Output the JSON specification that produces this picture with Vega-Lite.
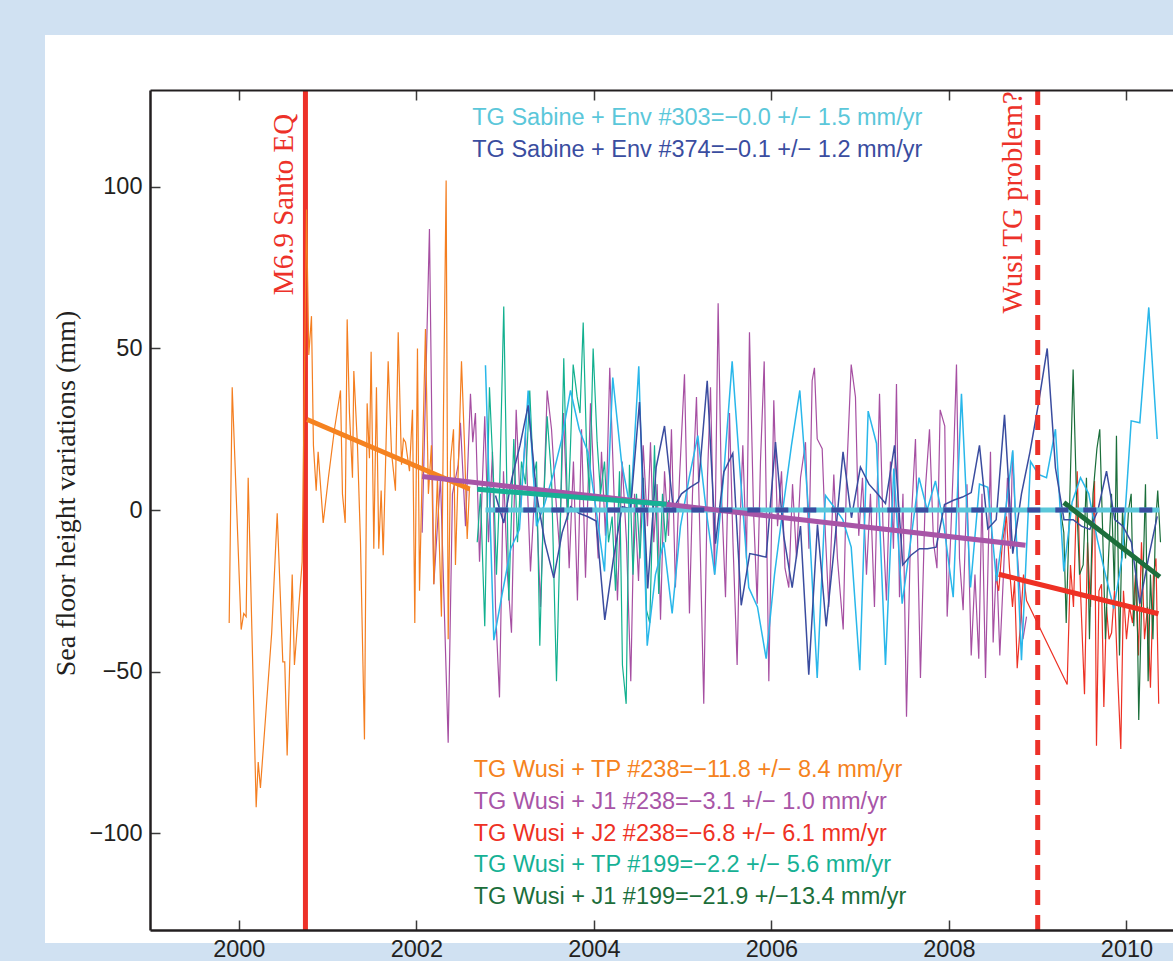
{
 "$schema": "https://vega.github.io/schema/vega-lite/v6.json",
 "width": 1023,
 "height": 840,
 "autosize": {"type": "none"},
 "padding": {"left": 150, "top": 90, "right": 0, "bottom": 31},
 "background": "#d0e1f2",
 "config": {"view": {"stroke": null}, "font": "Liberation Sans"},
 "datasets": {
  "orange": [{"t":1999.892,"v":-35},{"t":1999.926,"v":38},{"t":2000.027,"v":-37},{"t":2000.056,"v":-32},{"t":2000.083,"v":-33},{"t":2000.106,"v":10},{"t":2000.196,"v":-92},{"t":2000.219,"v":-78},{"t":2000.244,"v":-86},{"t":2000.371,"v":-38},{"t":2000.433,"v":-1},{"t":2000.496,"v":-47},{"t":2000.518,"v":-47},{"t":2000.545,"v":-76},{"t":2000.602,"v":-20},{"t":2000.627,"v":-48},{"t":2000.714,"v":-16},{"t":2000.763,"v":93},{"t":2000.789,"v":48},{"t":2000.819,"v":60},{"t":2000.841,"v":20},{"t":2000.872,"v":6},{"t":2000.894,"v":18},{"t":2000.951,"v":-4},{"t":2001.010,"v":10},{"t":2001.078,"v":25},{"t":2001.146,"v":37},{"t":2001.168,"v":5},{"t":2001.199,"v":-4},{"t":2001.221,"v":59},{"t":2001.247,"v":30},{"t":2001.281,"v":10},{"t":2001.296,"v":43},{"t":2001.337,"v":20},{"t":2001.371,"v":-10},{"t":2001.416,"v":-71},{"t":2001.446,"v":33},{"t":2001.472,"v":16},{"t":2001.491,"v":49},{"t":2001.521,"v":-12},{"t":2001.551,"v":38},{"t":2001.577,"v":-12},{"t":2001.604,"v":6},{"t":2001.627,"v":-14},{"t":2001.683,"v":46},{"t":2001.720,"v":18},{"t":2001.765,"v":6},{"t":2001.796,"v":55},{"t":2001.833,"v":14},{"t":2001.855,"v":22},{"t":2001.878,"v":21},{"t":2001.923,"v":12},{"t":2001.957,"v":31},{"t":2001.983,"v":-35},{"t":2002.013,"v":50},{"t":2002.036,"v":-25},{"t":2002.069,"v":15},{"t":2002.103,"v":56},{"t":2002.136,"v":5},{"t":2002.170,"v":20},{"t":2002.197,"v":-23},{"t":2002.238,"v":10},{"t":2002.283,"v":-33},{"t":2002.306,"v":30},{"t":2002.336,"v":102},{"t":2002.359,"v":-40},{"t":2002.385,"v":15},{"t":2002.419,"v":25},{"t":2002.441,"v":-17},{"t":2002.475,"v":15},{"t":2002.509,"v":46},{"t":2002.543,"v":20},{"t":2002.573,"v":-9},{"t":2002.599,"v":7}],
  "purple": [{"t":2002.066,"v":-7},{"t":2002.148,"v":87},{"t":2002.197,"v":-23},{"t":2002.272,"v":10},{"t":2002.359,"v":-72},{"t":2002.407,"v":5},{"t":2002.472,"v":14},{"t":2002.497,"v":27},{"t":2002.554,"v":-5},{"t":2002.610,"v":36},{"t":2002.636,"v":21},{"t":2002.666,"v":30},{"t":2002.712,"v":-16},{"t":2002.771,"v":29},{"t":2002.813,"v":-10},{"t":2002.858,"v":18},{"t":2002.892,"v":-30},{"t":2002.937,"v":-58},{"t":2002.982,"v":12},{"t":2003.027,"v":-20},{"t":2003.072,"v":-38},{"t":2003.125,"v":31},{"t":2003.173,"v":0},{"t":2003.230,"v":24},{"t":2003.286,"v":-19},{"t":2003.342,"v":10},{"t":2003.399,"v":-30},{"t":2003.474,"v":37},{"t":2003.523,"v":25},{"t":2003.568,"v":5},{"t":2003.613,"v":-12},{"t":2003.658,"v":30},{"t":2003.722,"v":-18},{"t":2003.770,"v":15},{"t":2003.815,"v":-28},{"t":2003.861,"v":25},{"t":2003.906,"v":-21},{"t":2003.962,"v":33},{"t":2004.007,"v":5},{"t":2004.049,"v":-15},{"t":2004.086,"v":18},{"t":2004.131,"v":-8},{"t":2004.179,"v":44},{"t":2004.221,"v":10},{"t":2004.266,"v":-28},{"t":2004.319,"v":15},{"t":2004.368,"v":-10},{"t":2004.416,"v":-53},{"t":2004.458,"v":5},{"t":2004.503,"v":-22},{"t":2004.556,"v":20},{"t":2004.604,"v":-5},{"t":2004.638,"v":21},{"t":2004.675,"v":-10},{"t":2004.713,"v":8},{"t":2004.751,"v":-34},{"t":2004.796,"v":12},{"t":2004.841,"v":-8},{"t":2004.874,"v":25},{"t":2004.919,"v":-24},{"t":2004.965,"v":10},{"t":2005.021,"v":42},{"t":2005.077,"v":-32},{"t":2005.111,"v":5},{"t":2005.156,"v":35},{"t":2005.201,"v":-15},{"t":2005.238,"v":-60},{"t":2005.280,"v":10},{"t":2005.314,"v":38},{"t":2005.359,"v":-20},{"t":2005.400,"v":64},{"t":2005.438,"v":5},{"t":2005.483,"v":-27},{"t":2005.528,"v":30},{"t":2005.567,"v":-10},{"t":2005.614,"v":-48},{"t":2005.646,"v":-5},{"t":2005.678,"v":20},{"t":2005.719,"v":-15},{"t":2005.753,"v":55},{"t":2005.798,"v":0},{"t":2005.840,"v":-29},{"t":2005.877,"v":15},{"t":2005.919,"v":46},{"t":2005.971,"v":-53},{"t":2006.027,"v":34},{"t":2006.069,"v":-5},{"t":2006.114,"v":12},{"t":2006.153,"v":-18},{"t":2006.196,"v":-24},{"t":2006.238,"v":8},{"t":2006.283,"v":-15},{"t":2006.328,"v":10},{"t":2006.384,"v":21},{"t":2006.423,"v":-12},{"t":2006.459,"v":40},{"t":2006.485,"v":44},{"t":2006.516,"v":22},{"t":2006.572,"v":19},{"t":2006.609,"v":-8},{"t":2006.646,"v":-30},{"t":2006.703,"v":11},{"t":2006.744,"v":-15},{"t":2006.809,"v":-37},{"t":2006.846,"v":10},{"t":2006.899,"v":45},{"t":2006.947,"v":35},{"t":2006.984,"v":-8},{"t":2007.026,"v":10},{"t":2007.071,"v":-20},{"t":2007.116,"v":5},{"t":2007.161,"v":-30},{"t":2007.218,"v":36},{"t":2007.257,"v":-5},{"t":2007.296,"v":-28},{"t":2007.341,"v":15},{"t":2007.375,"v":-12},{"t":2007.409,"v":39},{"t":2007.443,"v":-27},{"t":2007.482,"v":5},{"t":2007.522,"v":-64},{"t":2007.567,"v":-8},{"t":2007.623,"v":22},{"t":2007.679,"v":-52},{"t":2007.736,"v":7},{"t":2007.781,"v":25},{"t":2007.826,"v":-10},{"t":2007.865,"v":-18},{"t":2007.901,"v":31},{"t":2007.953,"v":26},{"t":2007.980,"v":-33},{"t":2008.017,"v":-10},{"t":2008.051,"v":15},{"t":2008.085,"v":45},{"t":2008.119,"v":-15},{"t":2008.160,"v":-31},{"t":2008.203,"v":8},{"t":2008.251,"v":-45},{"t":2008.293,"v":-20},{"t":2008.336,"v":-46},{"t":2008.372,"v":5},{"t":2008.412,"v":-52},{"t":2008.468,"v":18},{"t":2008.498,"v":-41},{"t":2008.536,"v":-15},{"t":2008.573,"v":-45},{"t":2008.614,"v":-20},{"t":2008.659,"v":10},{"t":2008.693,"v":-12},{"t":2008.716,"v":18},{"t":2008.761,"v":-10},{"t":2008.800,"v":-25},{"t":2008.834,"v":-40},{"t":2008.874,"v":-33}],
  "red": [{"t":2008.524,"v":-20},{"t":2008.561,"v":-25},{"t":2008.603,"v":-10},{"t":2008.648,"v":-2},{"t":2008.682,"v":-18},{"t":2008.716,"v":-30},{"t":2008.739,"v":-22},{"t":2008.769,"v":-49},{"t":2008.806,"v":-35},{"t":2008.840,"v":-20},{"t":2008.874,"v":-28},{"t":2009.332,"v":-54},{"t":2009.369,"v":-17},{"t":2009.403,"v":-30},{"t":2009.445,"v":12},{"t":2009.482,"v":-25},{"t":2009.527,"v":-57},{"t":2009.561,"v":-10},{"t":2009.595,"v":-30},{"t":2009.640,"v":9},{"t":2009.662,"v":-73},{"t":2009.690,"v":-25},{"t":2009.719,"v":-23},{"t":2009.745,"v":-61},{"t":2009.775,"v":-30},{"t":2009.803,"v":-40},{"t":2009.832,"v":-38},{"t":2009.865,"v":-25},{"t":2009.899,"v":-50},{"t":2009.936,"v":-74},{"t":2009.966,"v":-25},{"t":2010.000,"v":-40},{"t":2010.034,"v":-30},{"t":2010.068,"v":-35},{"t":2010.101,"v":-20},{"t":2010.135,"v":-45},{"t":2010.169,"v":-10},{"t":2010.203,"v":-40},{"t":2010.237,"v":-30},{"t":2010.270,"v":-55},{"t":2010.304,"v":-20},{"t":2010.332,"v":-15},{"t":2010.363,"v":-60}],
  "teal": [{"t":2002.686,"v":-10},{"t":2002.723,"v":5},{"t":2002.771,"v":-36},{"t":2002.824,"v":38},{"t":2002.869,"v":10},{"t":2002.903,"v":-20},{"t":2002.937,"v":5},{"t":2002.985,"v":63},{"t":2003.042,"v":-28},{"t":2003.098,"v":22},{"t":2003.140,"v":-10},{"t":2003.185,"v":15},{"t":2003.230,"v":8},{"t":2003.278,"v":37},{"t":2003.320,"v":10},{"t":2003.354,"v":15},{"t":2003.391,"v":-42},{"t":2003.432,"v":0},{"t":2003.474,"v":29},{"t":2003.523,"v":10},{"t":2003.579,"v":-53},{"t":2003.618,"v":-10},{"t":2003.661,"v":47},{"t":2003.706,"v":-3},{"t":2003.737,"v":20},{"t":2003.767,"v":45},{"t":2003.812,"v":35},{"t":2003.844,"v":30},{"t":2003.880,"v":58},{"t":2003.917,"v":20},{"t":2003.951,"v":5},{"t":2003.992,"v":50},{"t":2004.037,"v":21},{"t":2004.075,"v":5},{"t":2004.120,"v":15},{"t":2004.165,"v":-10},{"t":2004.206,"v":-2},{"t":2004.244,"v":-25},{"t":2004.289,"v":12},{"t":2004.322,"v":-48},{"t":2004.364,"v":-60},{"t":2004.401,"v":14},{"t":2004.441,"v":-20},{"t":2004.480,"v":5},{"t":2004.520,"v":-15},{"t":2004.559,"v":10},{"t":2004.593,"v":-31},{"t":2004.630,"v":-35},{"t":2004.683,"v":20},{"t":2004.731,"v":-26},{"t":2004.773,"v":5},{"t":2004.807,"v":-10},{"t":2004.841,"v":3}],
  "green": [{"t":2009.257,"v":0},{"t":2009.294,"v":-7},{"t":2009.321,"v":-35},{"t":2009.358,"v":0},{"t":2009.399,"v":43.5},{"t":2009.436,"v":5},{"t":2009.471,"v":-20},{"t":2009.512,"v":-17},{"t":2009.549,"v":10},{"t":2009.583,"v":-40},{"t":2009.623,"v":5},{"t":2009.667,"v":19},{"t":2009.699,"v":25},{"t":2009.730,"v":-5},{"t":2009.763,"v":-40},{"t":2009.797,"v":-15},{"t":2009.831,"v":5},{"t":2009.864,"v":-25},{"t":2009.887,"v":23},{"t":2009.921,"v":-45},{"t":2009.955,"v":0},{"t":2009.989,"v":-15},{"t":2010.023,"v":0},{"t":2010.053,"v":5},{"t":2010.082,"v":-36},{"t":2010.113,"v":-15},{"t":2010.138,"v":-65},{"t":2010.169,"v":-30},{"t":2010.192,"v":-15},{"t":2010.214,"v":8},{"t":2010.244,"v":-53},{"t":2010.270,"v":-20},{"t":2010.298,"v":-40},{"t":2010.326,"v":-5},{"t":2010.352,"v":6},{"t":2010.383,"v":-10}],
  "cyan": [{"t":2002.779,"v":44.8},{"t":2002.873,"v":-40.3},{"t":2002.967,"v":-26},{"t":2003.064,"v":-12},{"t":2003.162,"v":-6},{"t":2003.260,"v":37},{"t":2003.354,"v":-5},{"t":2003.447,"v":2},{"t":2003.542,"v":11},{"t":2003.639,"v":22},{"t":2003.737,"v":37},{"t":2003.835,"v":25},{"t":2003.932,"v":18},{"t":2004.026,"v":0},{"t":2004.120,"v":-19},{"t":2004.213,"v":41},{"t":2004.311,"v":15},{"t":2004.413,"v":0},{"t":2004.506,"v":44.5},{"t":2004.601,"v":-42},{"t":2004.694,"v":-20},{"t":2004.788,"v":-10},{"t":2004.882,"v":-32},{"t":2004.976,"v":-5},{"t":2005.074,"v":10},{"t":2005.171,"v":23},{"t":2005.265,"v":0},{"t":2005.362,"v":-20},{"t":2005.460,"v":10},{"t":2005.558,"v":46},{"t":2005.652,"v":10},{"t":2005.745,"v":-24},{"t":2005.843,"v":-30},{"t":2005.941,"v":-46},{"t":2006.035,"v":-20},{"t":2006.128,"v":0},{"t":2006.226,"v":20},{"t":2006.320,"v":37},{"t":2006.418,"v":0},{"t":2006.516,"v":-52},{"t":2006.609,"v":4.5},{"t":2006.703,"v":1},{"t":2006.804,"v":-3},{"t":2006.899,"v":-11.5},{"t":2006.996,"v":-49.6},{"t":2007.090,"v":30.6},{"t":2007.184,"v":20.6},{"t":2007.285,"v":-48},{"t":2007.379,"v":12.8},{"t":2007.473,"v":-29},{"t":2007.567,"v":-10},{"t":2007.663,"v":10},{"t":2007.755,"v":0},{"t":2007.848,"v":9},{"t":2007.944,"v":-5},{"t":2008.048,"v":-27},{"t":2008.141,"v":36},{"t":2008.243,"v":-24},{"t":2008.344,"v":8},{"t":2008.438,"v":7},{"t":2008.536,"v":-22},{"t":2008.626,"v":-3},{"t":2008.719,"v":18.5},{"t":2008.817,"v":-46.5},{"t":2008.919,"v":15},{"t":2009.009,"v":11},{"t":2009.099,"v":10},{"t":2009.200,"v":25},{"t":2009.294,"v":-19},{"t":2009.388,"v":2.5},{"t":2009.482,"v":10},{"t":2009.575,"v":5},{"t":2009.670,"v":-9},{"t":2009.763,"v":-20},{"t":2009.857,"v":-30.5},{"t":2009.952,"v":-14.6},{"t":2010.053,"v":27.6},{"t":2010.150,"v":27},{"t":2010.251,"v":62.7},{"t":2010.346,"v":22}],
  "navy": [{"t":2002.892,"v":4.5},{"t":2002.985,"v":-4},{"t":2003.078,"v":10},{"t":2003.168,"v":20},{"t":2003.260,"v":32.4},{"t":2003.354,"v":5},{"t":2003.449,"v":-10},{"t":2003.548,"v":-21},{"t":2003.643,"v":-7},{"t":2003.737,"v":1},{"t":2003.832,"v":-1},{"t":2003.928,"v":-2},{"t":2004.026,"v":-3.4},{"t":2004.123,"v":-34},{"t":2004.221,"v":-15},{"t":2004.319,"v":1},{"t":2004.413,"v":0.4},{"t":2004.514,"v":33.4},{"t":2004.607,"v":-24.3},{"t":2004.702,"v":13.3},{"t":2004.796,"v":26},{"t":2004.894,"v":0.4},{"t":2004.987,"v":5},{"t":2005.083,"v":7},{"t":2005.182,"v":8.7},{"t":2005.277,"v":40},{"t":2005.370,"v":-10.4},{"t":2005.464,"v":11.8},{"t":2005.565,"v":17.5},{"t":2005.660,"v":-29.5},{"t":2005.756,"v":-13.5},{"t":2005.849,"v":-14},{"t":2005.941,"v":-14.6},{"t":2006.046,"v":21},{"t":2006.139,"v":-8},{"t":2006.234,"v":-24},{"t":2006.328,"v":-5},{"t":2006.421,"v":-51},{"t":2006.519,"v":-4.5},{"t":2006.617,"v":-36},{"t":2006.714,"v":-10},{"t":2006.807,"v":18},{"t":2006.902,"v":-2.4},{"t":2007.003,"v":13.3},{"t":2007.099,"v":8},{"t":2007.195,"v":5},{"t":2007.285,"v":2},{"t":2007.387,"v":20},{"t":2007.480,"v":-17},{"t":2007.572,"v":-14},{"t":2007.668,"v":-12},{"t":2007.758,"v":-12},{"t":2007.856,"v":-11.5},{"t":2007.950,"v":1.7},{"t":2008.051,"v":3},{"t":2008.153,"v":4},{"t":2008.251,"v":5.4},{"t":2008.344,"v":20},{"t":2008.438,"v":-5.8},{"t":2008.532,"v":-3},{"t":2008.626,"v":29.5},{"t":2008.719,"v":-13.5},{"t":2008.817,"v":5},{"t":2008.913,"v":18},{"t":2009.009,"v":33},{"t":2009.107,"v":50},{"t":2009.200,"v":13},{"t":2009.296,"v":-3},{"t":2009.399,"v":-3},{"t":2009.492,"v":-5},{"t":2009.587,"v":-6},{"t":2009.679,"v":0},{"t":2009.775,"v":12},{"t":2009.868,"v":-3},{"t":2009.960,"v":-5},{"t":2010.056,"v":-10},{"t":2010.150,"v":-29},{"t":2010.247,"v":-15},{"t":2010.346,"v":-2}],
  "trends": [{"s":"cyan","t":2002.78,"v":0},{"s":"cyan","t":2010.37,"v":0},{"s":"orange","t":2000.77,"v":28},{"s":"orange","t":2002.6,"v":6.5},{"s":"purple","t":2002.066,"v":10.4},{"s":"purple","t":2008.862,"v":-10.9},{"s":"teal","t":2002.686,"v":6.4},{"s":"teal","t":2004.818,"v":1.8},{"s":"red","t":2008.561,"v":-19.9},{"s":"red","t":2010.36,"v":-32.1},{"s":"green","t":2009.294,"v":2.3},{"s":"green","t":2010.375,"v":-20.7},{"s":"navy","t":2002.89,"v":0},{"s":"navy","t":2010.37,"v":0}],
  "events": [{"t":2000.751,"kind":"eq"},{"t":2009.0,"kind":"problem"}],
  "notes": [{"k":"cyan","x":2002.63,"y":119.1,"label":"TG Sabine + Env #303=−0.0 +/− 1.5 mm/yr"},{"k":"navy","x":2002.63,"y":109.3,"label":"TG Sabine + Env #374=−0.1 +/− 1.2 mm/yr"},{"k":"orange","x":2002.647,"y":-82.7,"label":"TG Wusi + TP #238=−11.8 +/− 8.4 mm/yr"},{"k":"purple","x":2002.647,"y":-92.4,"label":"TG Wusi + J1 #238=−3.1 +/− 1.0 mm/yr"},{"k":"red","x":2002.647,"y":-102.3,"label":"TG Wusi + J2 #238=−6.8 +/− 6.1 mm/yr"},{"k":"teal","x":2002.647,"y":-112.1,"label":"TG Wusi + TP #199=−2.2 +/− 5.6 mm/yr"},{"k":"green","x":2002.647,"y":-122.1,"label":"TG Wusi + J1 #199=−21.9 +/−13.4 mm/yr"}],
  "vnotes": [{"x":2000.613,"y":66.5,"label":"M6.9 Santo EQ"},{"x":2008.825,"y":60.8,"label":"Wusi TG problem?"}]
 },
 "resolve": {"axis": {"x": "independent", "y": "independent"}},
 "layer": [
  {
   "data": {"values": [{}]},
   "mark": {"type": "rect", "color": "white"},
   "encoding": {
    "x": {"datum": 1997.817, "type": "quantitative", "scale": {"domain": [1999, 2010.524], "nice": false, "zero": false}, "axis": null},
    "x2": {"datum": 2012},
    "y": {"datum": 147, "type": "quantitative", "scale": {"domain": [-130, 130], "nice": false, "zero": false}, "axis": null},
    "y2": {"datum": -134}
   }
  },
  {
   "data": {"name": "events"},
   "transform": [{"filter": "datum.kind == 'eq'"}],
   "mark": {"type": "rule", "color": "#ed3129", "strokeWidth": 5},
   "encoding": {"x": {"field": "t", "type": "quantitative", "axis": null}}
  },
  {
   "data": {"name": "purple"},
   "mark": {"type": "line", "color": "#a64fa2", "strokeWidth": 1.2},
   "encoding": {
    "x": {"field": "t", "type": "quantitative", "axis": {"orient": "top", "values": [2000, 2002, 2004, 2006, 2008, 2010], "labels": false, "title": null, "grid": false, "tickSize": -10, "tickWidth": 1.5, "tickColor": "#3a3a3a", "domainColor": "#231f20", "domainWidth": 2, "zindex": 1}},
    "y": {"field": "v", "type": "quantitative", "axis": null}
   }
  },
  {
   "data": {"name": "orange"},
   "mark": {"type": "line", "color": "#f47e20", "strokeWidth": 1.2},
   "encoding": {
    "x": {"field": "t", "type": "quantitative", "axis": {"orient": "bottom", "values": [2000, 2002, 2004, 2006, 2008, 2010], "format": "d", "title": null, "grid": false, "tickSize": -10, "tickWidth": 1.5, "tickColor": "#3a3a3a", "domainColor": "#231f20", "domainWidth": 2.5, "labelFont": "Liberation Sans", "labelFontSize": 23.5, "labelColor": "#231f20", "labelPadding": 17, "labelFlush": false, "labelOverlap": false, "zindex": 1}},
    "y": {"field": "v", "type": "quantitative", "axis": {"orient": "left", "values": [-100, -50, 0, 50, 100], "grid": false, "tickSize": -10, "tickWidth": 1.5, "tickColor": "#3a3a3a", "domainColor": "#231f20", "domainWidth": 2.5, "labelFont": "Liberation Sans", "labelFontSize": 23.5, "labelColor": "#231f20", "labelPadding": 18, "labelFlush": false, "labelOverlap": false, "title": "Sea floor height variations (mm)", "titleFont": "Liberation Serif", "titleFontSize": 28, "titleFontWeight": "normal", "titleColor": "#231f20", "titleAngle": 270, "titleAlign": "center", "titleBaseline": "alphabetic", "titleX": -75.5, "titleY": 403, "zindex": 1}}
   }
  },
  {
   "data": {"name": "red"},
   "mark": {"type": "line", "color": "#ed3124", "strokeWidth": 1.2},
   "encoding": {"x": {"field": "t", "type": "quantitative", "axis": null}, "y": {"field": "v", "type": "quantitative", "axis": null}}
  },
  {
   "data": {"name": "teal"},
   "mark": {"type": "line", "color": "#12b08f", "strokeWidth": 1.2},
   "encoding": {"x": {"field": "t", "type": "quantitative", "axis": null}, "y": {"field": "v", "type": "quantitative", "axis": null}}
  },
  {
   "data": {"name": "green"},
   "mark": {"type": "line", "color": "#1a6e3a", "strokeWidth": 1.2},
   "encoding": {"x": {"field": "t", "type": "quantitative", "axis": null}, "y": {"field": "v", "type": "quantitative", "axis": null}}
  },
  {
   "data": {"name": "cyan"},
   "mark": {"type": "line", "color": "#29b7ea", "strokeWidth": 1.5},
   "encoding": {"x": {"field": "t", "type": "quantitative", "axis": null}, "y": {"field": "v", "type": "quantitative", "axis": null}}
  },
  {
   "data": {"name": "navy"},
   "mark": {"type": "line", "color": "#3a4c9f", "strokeWidth": 1.5},
   "encoding": {"x": {"field": "t", "type": "quantitative", "axis": null}, "y": {"field": "v", "type": "quantitative", "axis": null}}
  },
  {
   "data": {"name": "trends"},
   "transform": [{"filter": "datum.s != 'navy'"}],
   "mark": {"type": "line", "strokeWidth": 5},
   "encoding": {
    "x": {"field": "t", "type": "quantitative", "axis": null},
    "y": {"field": "v", "type": "quantitative", "axis": null},
    "detail": {"field": "s"},
    "color": {"field": "s", "type": "nominal", "legend": null, "scale": {"domain": ["orange", "purple", "red", "teal", "green", "cyan", "navy"], "range": ["#f58220", "#a855a7", "#ee3124", "#16b195", "#1c6e3b", "#5bc7da", "#3a4da0"]}}
   }
  },
  {
   "data": {"name": "trends"},
   "transform": [{"filter": "datum.s == 'navy'"}],
   "mark": {"type": "line", "strokeWidth": 5, "strokeDash": [13, 15]},
   "encoding": {
    "x": {"field": "t", "type": "quantitative", "axis": null},
    "y": {"field": "v", "type": "quantitative", "axis": null},
    "color": {"field": "s", "type": "nominal", "legend": null}
   }
  },
  {
   "data": {"name": "events"},
   "transform": [{"filter": "datum.kind == 'problem'"}],
   "mark": {"type": "rule", "color": "#ed3129", "strokeWidth": 5, "strokeDash": [15, 10]},
   "encoding": {"x": {"field": "t", "type": "quantitative", "axis": null}}
  },
  {
   "data": {"name": "notes"},
   "mark": {"type": "text", "align": "left", "baseline": "alphabetic", "font": "Liberation Sans", "fontSize": 23.5},
   "encoding": {
    "x": {"field": "x", "type": "quantitative", "axis": null},
    "y": {"field": "y", "type": "quantitative", "axis": null},
    "text": {"field": "label"},
    "color": {"field": "k", "type": "nominal", "legend": null}
   }
  },
  {
   "data": {"name": "vnotes"},
   "mark": {"type": "text", "align": "left", "baseline": "alphabetic", "angle": 270, "font": "Liberation Serif", "fontSize": 29, "color": "#ed3129"},
   "encoding": {
    "x": {"field": "x", "type": "quantitative", "axis": null},
    "y": {"field": "y", "type": "quantitative", "axis": null},
    "text": {"field": "label"}
   }
  }
 ]
}
